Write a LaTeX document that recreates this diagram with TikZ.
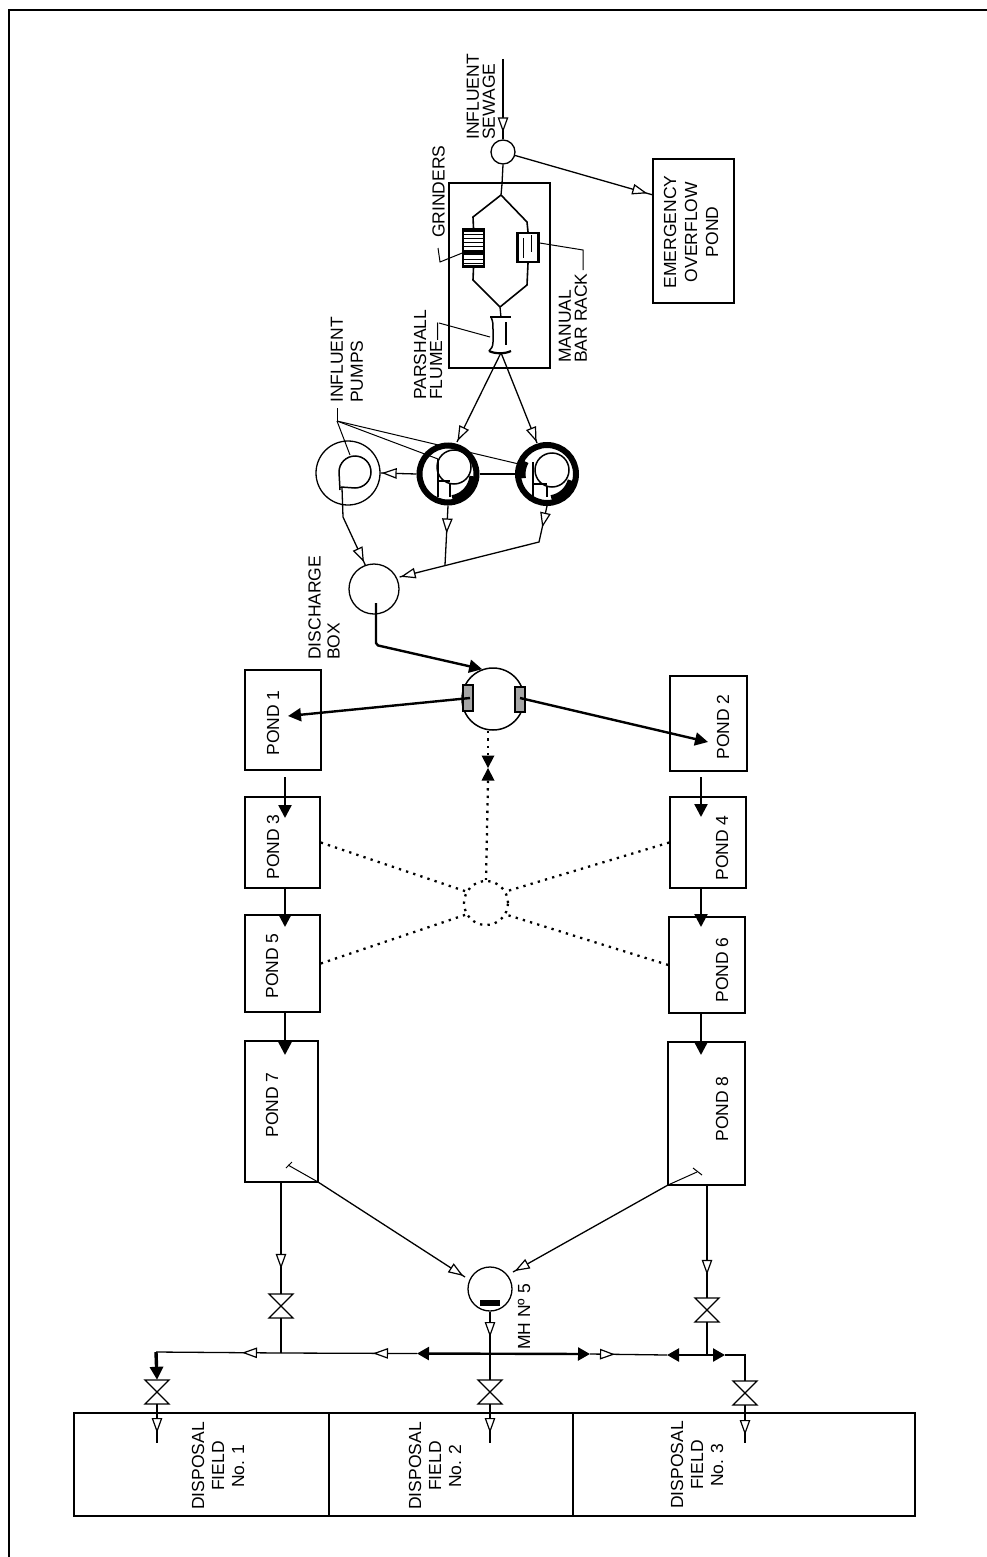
\documentclass[tikz,border=0pt]{standalone}
\usepackage{fontspec}
\setmainfont{Liberation Sans}
\usetikzlibrary{arrows.meta,decorations.markings}

\begin{document}
\begin{tikzpicture}[x=1pt,y=-1pt]

  % ── Styles ────────────────────────
  \tikzset{
    pipe/.style = {draw, line width=1.3pt},
    heavy/.style = {draw, line width=2.4pt},
    leader/.style = {draw, line width=1pt},
    dotline/.style = {draw, line width=2.3pt, dash pattern=on 2.3pt off 5.2pt},
    box/.style = {draw, line width=1.5pt, inner sep=0pt},
    round/.style = {draw, circle, line width=1.3pt, inner sep=0pt},
    ring/.style = {draw, circle, line width=6pt, inner sep=0pt},
    textv/.style = {rotate=90, inner sep=0pt, align=center, font=\fontsize{17.5}{16}\selectfont},
    filled/.style = {-{Triangle[length=13pt,width=13pt]}},
    filledboth/.style = {{Triangle[length=12pt,width=13pt]}-{Triangle[length=12pt,width=13pt]}},
    hollow/.style = {postaction={decorate, decoration={markings,
      mark=at position #1 with {\arrow{Triangle[length=15pt,width=10.5pt,fill=white,line width=1.2pt]}}}}},
    valve/.pic = {
      \node[inner sep=0pt, minimum width=24pt, minimum height=24pt] (-box) {};
      \draw[line width=1.3pt, fill=white] (-12,-12) -- (12,-12) -- (-12,12) -- (12,12) -- cycle;
    },
    solidvalve/.pic = {
      \node[inner sep=0pt, minimum width=13pt, minimum height=25pt] (-box) {};
      \fill (-6.5,-12.5) -- (6.5,-12.5) -- (-6.5,12.5) -- (6.5,12.5) -- cycle;
    }
  }

  \useasboundingbox (0,0) rectangle (987,1557);

  % Frame of the page
  \draw[line width=1.6pt] (987,10) -- (9,10) -- (9,1557);

  % =========================================================
  % 1. HEADWORKS
  % =========================================================
  \coordinate (sewagein) at (503,59);
  \node[round, minimum size=24pt] (wetwell) at (503,152) {};
  \node[box, minimum width=81pt, minimum height=144pt] (overflow) at (693.5,231) {};
  \node[box, minimum width=101pt, minimum height=185pt] (screens) at (499.5,275.5) {};
  \node[box, minimum width=21pt, minimum height=38pt] (grinder) at (473.5,248) {};
  \node[box, line width=2.4pt, minimum width=21pt, minimum height=29pt] (barrack) at (528,247.5) {};
  \node[minimum width=22pt, minimum height=35pt, inner sep=0pt] (flume) at (501,335) {};
  \coordinate (splittop) at (501,195);
  \coordinate (splitbot) at (500,307);
  \coordinate (overflowin) at (653,195);

  \draw[pipe, hollow=-7pt] (sewagein) -- (wetwell.north);
  \draw[pipe, hollow=-6pt] (wetwell) -- (overflowin);
  \draw[pipe] (wetwell.south) -- (502,184) -- (splittop);
  \draw[pipe, line width=1.6pt] (splittop) -- (473,217) -- (grinder.north);
  \draw[pipe, line width=1.6pt] (splittop) -- (527,222) -- (barrack.north);
  \draw[pipe, line width=1.6pt] (grinder.south) -- (473,280) -- (splitbot);
  \draw[pipe, line width=1.6pt] (barrack.south) -- (527,285) -- (splitbot);
  \draw[pipe] (splitbot) -- (flume.north);

  % Grinder bars and rack bars
  \foreach \y in {234,238,242,246,259,263}
    \draw[line width=.8pt] (464,\y) -- (483,\y);
  \fill (464,229) rectangle (483,232);
  \fill (464,265) rectangle (483,268);
  \fill (464,250) rectangle (483,255);
  \draw[line width=1pt] (523,238) -- (523,258);
  \draw[line width=1pt] (531,235) -- (531,252);

  % Flume outline
  \draw[line width=1.5pt] (490,317) -- (511,317);
  \draw[line width=1.5pt] (491,317) .. controls (493,322) and (493,323) .. (493,330) -- (493,342) .. controls (493,347) and (491,349) .. (489,351);
  \draw[line width=2pt] (506,322) -- (506,345);
  \draw[line width=2.2pt] (489,351) .. controls (495,354) and (505,354) .. (511,351);

  % Leaders and their labels
  \draw[leader] (grinder.west |- 0,253) -- (440,262) -- (438,248);
  \draw[leader] (barrack.east |- 0,243) -- (583,250) -- (583,270);
  \draw[leader] (439,323) -- (490,337);
  \node[textv, anchor=west, align=left] (influentlabel) at (481,140) {INFLUENT\\SEWAGE};
  \node[textv, anchor=west] (grinderslabel) at (438.5,238) {GRINDERS};
  \node[textv, anchor=west, align=left] (barracklabel) at (573,363) {MANUAL\\BAR RACK};
  \node[textv, anchor=west, align=left] (flumelabel) at (428,400) {PARSHALL\\FLUME—};
  \node[textv] (overflowlabel) at (691,232) {EMERGENCY\\[5pt]OVERFLOW\\[5pt]POND};

  % =========================================================
  % 2. PUMP STATION
  % =========================================================
  \node[round, minimum size=64pt] (pumpC) at (348,473) {};
  \node[ring, minimum size=57pt] (pumpA) at (448,474) {};
  \node[ring, minimum size=58pt] (pumpB) at (547,474) {};
  \node[round, minimum size=50pt] (discharge) at (374,589) {};
  \node[round, line width=1.5pt, minimum size=62pt] (splitter) at (493,699) {};
  \coordinate (pumpAin) at (457,442);
  \coordinate (pumpBin) at (537,443);
  \coordinate (pumpslabel) at (337,421);
  \coordinate (dischargeout) at (376,603);

  \draw[pipe, hollow=-1pt] (flume.south) -- (pumpAin);
  \draw[pipe, hollow=-1pt] (flume.south) -- (pumpBin);

  % Heavy part of the rings
  \draw[line width=5pt] ([shift={(-80:24pt)}]pumpA.center) arc[start angle=-80, end angle=-5, radius=24pt];
  \draw[line width=5pt] ([shift={(-80:24pt)}]pumpB.center) arc[start angle=-80, end angle=-15, radius=24pt];
  \draw[line width=5pt] ([shift={(150:24pt)}]pumpB.center) arc[start angle=150, end angle=190, radius=24pt];

  % Pump volutes
  \draw[line width=1.5pt] (340,490) -- (339,472) arc[start angle=180, end angle=-90, radius=16pt] -- (341,487);
  \draw[line width=1.5pt] (454,467) circle[radius=17pt];
  \draw[line width=1.5pt] (552,470) circle[radius=17pt];
  \draw[line width=1.5pt] (438,459) -- (438,497);
  \draw[line width=1.5pt] (450,484) -- (450,497);
  \draw[line width=1.5pt] (438,481) -- (450,481);
  \draw[line width=1.5pt] (533,462) -- (533,497);
  \draw[line width=1.5pt] (547,486) -- (547,497);
  \draw[line width=1.5pt] (533,484) -- (547,484);

  \draw[leader] (pumpslabel) -- ++(0,-13);
  \draw[leader] (pumpslabel) -- (350,455);
  \draw[leader] (pumpslabel) -- (438,459);
  \draw[leader] (pumpslabel) -- (523,465);
  \node[textv, anchor=west, align=left] (influentpumps) at (347,403) {INFLUENT\\[4pt]PUMPS};

  \draw[pipe] (pumpA.east) -- (pumpB.west);
  \draw[pipe, hollow=-1pt] (pumpA.west) -- (pumpC.east);
  \draw[pipe, hollow=-3pt] (342,488) -- (343,517) -- (discharge.110);
  \draw[pipe, hollow=28pt] (pumpA.south) -- (445,565);
  \draw[pipe, hollow=22pt, hollow=-1pt] (pumpB.south) -- (539,542) -- (discharge.east |- 0,577);

  \draw[heavy, rounded corners=2pt, filled] (dischargeout) -- (376,645) -- (splitter.110);
  \node[textv, anchor=west, align=left] (dischargelabel) at (324,660) {DISCHARGE\\[3pt]BOX};

  % =========================================================
  % 3. PONDS
  % =========================================================
  \node[box, minimum width=76pt, minimum height=100pt] (pond1) at (283,720) {};
  \node[box, minimum width=77pt, minimum height=95pt] (pond2) at (708.5,723.5) {};
  \node[box, minimum width=75pt, minimum height=91pt] (pond3) at (282.5,842.5) {};
  \node[box, minimum width=76pt, minimum height=91pt] (pond4) at (708,842.5) {};
  \node[box, minimum width=75pt, minimum height=97pt] (pond5) at (282.5,963.5) {};
  \node[box, minimum width=76pt, minimum height=96pt] (pond6) at (707,965) {};
  \node[box, minimum width=73pt, minimum height=141pt] (pond7) at (281.5,1111.5) {};
  \node[box, minimum width=77pt, minimum height=143pt] (pond8) at (706.5,1113.5) {};

  \node[textv] (pond1label) at (273,723) {POND 1};
  \node[textv] (pond2label) at (723,727) {POND 2};
  \node[textv] (pond3label) at (273,847) {POND 3};
  \node[textv] (pond4label) at (722,848) {POND 4};
  \node[textv] (pond5label) at (272,966) {POND 5};
  \node[textv] (pond6label) at (722,970) {POND 6};
  \node[textv] (pond7label) at (272,1105) {POND 7};
  \node[textv] (pond8label) at (722,1109) {POND 8};

  % Inlet works of the splitter box
  \draw[line width=1.5pt, fill=black!35] (463,685) rectangle (473,711);
  \draw[line width=1.5pt, fill=black!35] (515,687) rectangle (525,712);

  \coordinate (pond1in) at (288,716);
  \coordinate (pond2in) at (708,742);
  \draw[heavy, filled] (470,698) -- (pond1in);
  \draw[heavy, filled] (520,698) -- (pond2in);

  \draw[heavy, filled] (285,777) -- (285,818);
  \draw[heavy, filled] (285,888) -- (285,927);
  \draw[heavy, filled] (285,1012) -- (285,1055);
  \draw[heavy, filled] (701,777) -- (701,817);
  \draw[heavy, filled] (701,888) -- (701,927);
  \draw[heavy, filled] (701,1013) -- (701,1055);

  % Dotted return line
  \node[round, dotline, minimum size=44pt] (hub) at (486,903) {};
  \pic (returnvalve) at (488,768) {solidvalve};
  \draw[dotline] (splitter.south -| 488,0) -- (returnvalve-box.north);
  \draw[dotline] (returnvalve-box.south) -- (hub.north);
  \draw[dotline] (pond3.east) -- (hub.150);
  \draw[dotline] (pond4.west) -- (hub.30);
  \draw[dotline] (pond5.east) -- (hub.210);
  \draw[dotline] (pond6.west) -- (hub.330);

  % =========================================================
  % 4. OUTFALL
  % =========================================================
  \node[round, minimum size=44pt] (manhole) at (490,1289) {};
  \node[textv] (manholelabel) at (524,1317) {MH Nº 5};
  \fill (480,1300) rectangle (500,1306);

  \coordinate (pond7out) at (281,1182);
  \coordinate (pond8out) at (707,1185);
  \coordinate (pond7corner) at (318,1182);
  \coordinate (pond8corner) at (668,1185);
  \coordinate (mhin7) at (465,1277);
  \coordinate (mhin8) at (513,1272);
  \coordinate (mainleft) at (156,1352);
  \coordinate (tee7) at (281,1353);
  \coordinate (heavyA) at (417,1353.5);
  \coordinate (teemh) at (490,1354);
  \coordinate (heavyB) at (590,1354);
  \coordinate (heavyC) at (667,1355);
  \coordinate (tee8) at (707,1355);
  \coordinate (heavyD) at (725,1355);
  \coordinate (mainright) at (745,1355);

  \pic (valve7) at (281,1306) {valve};
  \pic (valve8) at (707,1310) {valve};
  \pic (field1valve) at (157,1392) {valve};
  \pic (field2valve) at (490,1392) {valve};
  \pic (field3valve) at (745,1393) {valve};

  \draw[pipe, hollow=-25pt] (pond7out) -- (valve7-box.north);
  \draw[pipe, hollow=-23pt] (pond8out) -- (valve8-box.north);
  \draw[pipe] (valve7-box.south) -- (tee7);
  \draw[pipe] (valve8-box.south) -- (tee8);
  \draw[pipe, hollow=-2pt] (pond7corner) -- (mhin7);
  \draw[pipe, hollow=-2pt] (pond8corner) -- (mhin8);
  \draw[leader] (pond7corner) -- (288,1165);
  \draw[leader] (286,1168) -- (292,1162);
  \draw[leader] (pond8corner) -- (697,1172);
  \draw[leader] (693,1168) -- (702,1175);

  % Main header
  \draw[pipe, hollow=39pt] (tee7) -- (mainleft);
  \draw[pipe, hollow=44pt] (heavyA) -- (tee7);
  \draw[heavy, filledboth] (heavyA) -- (heavyB);
  \draw[pipe, hollow=25pt] (heavyB) -- (heavyC);
  \draw[heavy, filledboth] (heavyC) -- (heavyD);
  \draw[pipe] (heavyD) -- (mainright) -- (field3valve-box.north);
  \draw[heavy, line width=3.4pt, filled] (mainleft) -- (field1valve-box.north);
  \draw[pipe, hollow=-17pt] (manhole.south) -- (teemh);
  \draw[pipe] (teemh) -- (field2valve-box.north);

  % =========================================================
  % 5. DISPOSAL FIELDS
  % =========================================================
  \node[box, minimum width=255pt, minimum height=103pt] (field1) at (201.5,1464.5) {};
  \node[box, minimum width=244pt, minimum height=103pt] (field2) at (451,1464.5) {};
  \node[box, minimum width=342pt, minimum height=103pt] (field3) at (744,1464.5) {};

  \coordinate (field1out) at (157,1443);
  \coordinate (field2out) at (490,1443);
  \coordinate (field3out) at (745,1443);
  \draw[pipe, hollow=-10pt] (field1valve-box.south) -- (field1out);
  \draw[pipe, hollow=-10pt] (field2valve-box.south) -- (field2out);
  \draw[pipe, hollow=-8pt] (field3valve-box.south) -- (field3out);

  \node[textv] (field1label) at (218,1466) {DISPOSAL\\[4pt]FIELD\\[4pt]No. 1};
  \node[textv] (field2label) at (435,1466) {DISPOSAL\\[4pt]FIELD\\[4pt]No. 2};
  \node[textv] (field3label) at (697,1465) {DISPOSAL\\[4pt]FIELD\\[4pt]No. 3};

\end{tikzpicture}
\end{document}
